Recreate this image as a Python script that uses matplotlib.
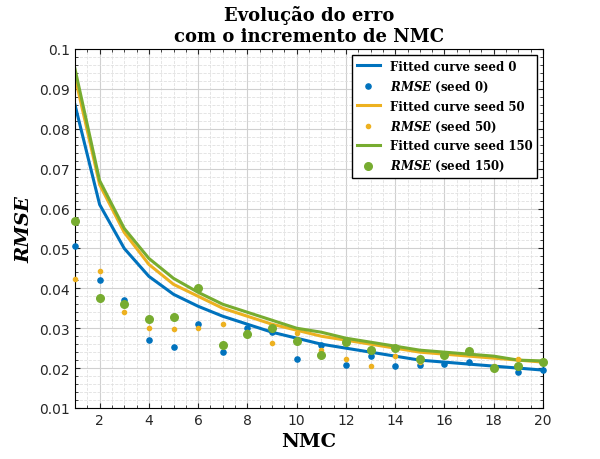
import matplotlib
matplotlib.use("Agg")
import matplotlib.pyplot as plt
from matplotlib.ticker import MultipleLocator

nmc = list(range(1, 21))
fit0 = [0.086,0.061,0.050,0.043,0.0385,0.0355,0.033,0.031,0.029,0.0275,0.026,0.025,0.024,0.023,0.022,0.0215,0.021,0.0205,0.020,0.0195]
fit50 = [0.093,0.066,0.054,0.046,0.041,0.038,0.035,0.033,0.031,0.0295,0.028,0.027,0.026,0.025,0.024,0.0235,0.023,0.0225,0.022,0.0215]
fit150 = [0.095,0.067,0.055,0.0475,0.0425,0.039,0.036,0.034,0.032,0.030,0.029,0.0275,0.0265,0.0255,0.0245,0.024,0.0235,0.023,0.022,0.0218]
rmse0 = [0.0507,0.0421,0.0371,0.027,0.0253,0.031,0.024,0.030,0.029,0.0223,0.0258,0.0208,0.023,0.0205,0.0208,0.021,0.0215,0.020,0.019,0.0195]
rmse50 = [0.0423,0.0443,0.034,0.030,0.0297,0.030,0.031,0.029,0.0263,0.0288,0.0245,0.0224,0.0205,0.023,0.0216,0.023,0.024,0.0205,0.0222,0.0215]
rmse150 = [0.057,0.0376,0.036,0.0323,0.0328,0.040,0.0258,0.0286,0.030,0.0268,0.0233,0.0265,0.0245,0.025,0.0223,0.0233,0.0243,0.020,0.0205,0.0215]

c0, c50, c150 = "#0072BD", "#EDB120", "#77AC30"
plt.rcParams['font.family'] = 'DejaVu Serif'
plt.rcParams['mathtext.fontset'] = 'dejavuserif'

fig = plt.figure(figsize=(6, 4.6), dpi=100)
ax = fig.add_axes([75/600, 1-409/460, 468/600, 359/460])
ax.plot(nmc, fit0, color=c0, lw=2.2, label="Fitted curve seed 0")
ax.scatter(nmc, rmse0, color=c0, s=14, zorder=3, clip_on=False, label=r"$\mathbfit{RMSE}$ (seed 0)")
ax.plot(nmc, fit50, color=c50, lw=2.2, label="Fitted curve seed 50")
ax.scatter(nmc, rmse50, color=c50, s=9, zorder=3, clip_on=False, label=r"$\mathbfit{RMSE}$ (seed 50)")
ax.plot(nmc, fit150, color=c150, lw=2.2, label="Fitted curve seed 150")
ax.scatter(nmc, rmse150, color=c150, s=30, zorder=3, clip_on=False, label=r"$\mathbfit{RMSE}$ (seed 150)")

ax.set_xlim(1, 20)
ax.set_ylim(0.01, 0.1)
ax.xaxis.set_minor_locator(MultipleLocator(0.5))
ax.yaxis.set_minor_locator(MultipleLocator(0.002))
ax.set_xticks([2,4,6,8,10,12,14,16,18,20])
ax.set_xticklabels([str(v) for v in [2,4,6,8,10,12,14,16,18,20]], family='DejaVu Sans')
ax.set_yticks([0.01,0.02,0.03,0.04,0.05,0.06,0.07,0.08,0.09,0.1])
ax.set_yticklabels(["0.01","0.02","0.03","0.04","0.05","0.06","0.07","0.08","0.09","0.1"], family='DejaVu Sans')
ax.grid(which='major', color='#d0d0d0', lw=0.8)
ax.grid(which='minor', color='#e0e0e0', lw=0.6, ls='--')
ax.tick_params(which='both', direction='in', labelsize=10, colors='#262626', top=True, right=True)
ax.set_xlabel("NMC", fontsize=14, fontweight='bold')
ax.set_ylabel("RMSE", fontsize=14, fontweight='bold', fontstyle='italic')
ax.set_title("Evolução do erro\ncom o incremento de NMC", fontsize=13, fontweight='bold')
ax.legend(loc='upper right', prop={'weight': 'bold', 'size': 8.5},
          fancybox=False, edgecolor='black', framealpha=1)
fig.savefig("out.png", dpi=100)
